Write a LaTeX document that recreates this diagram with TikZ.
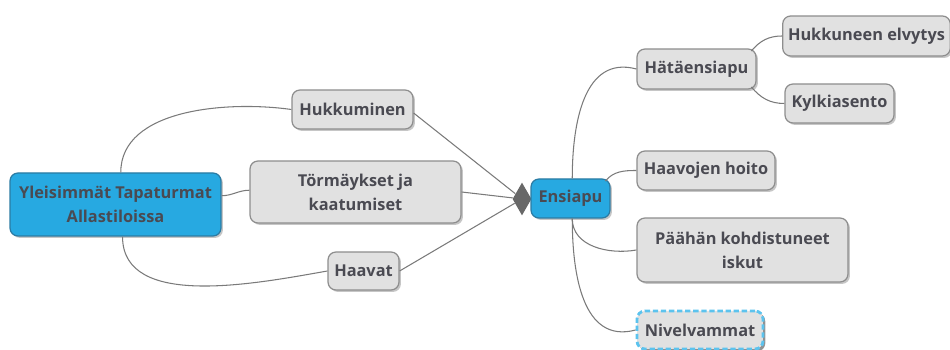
\documentclass[tikz,border=0pt]{standalone}
\usepackage{fontspec}
\setmainfont{Open Sans}
\usepackage{xcolor}
\usepackage{tikz}
\usetikzlibrary{shapes.geometric,shadows}
\definecolor{topicblue}{HTML}{27A9E1}
\definecolor{topicedge}{HTML}{2B7BA3}
\definecolor{boxgray}{HTML}{E1E1E1}
\definecolor{boxedge}{HTML}{8E8E8E}
\definecolor{textgray}{HTML}{4A4A52}
\definecolor{linegray}{HTML}{7A7A7A}
\definecolor{dashblue}{HTML}{5CC3EE}
\tikzset{
  topic box/.style={draw=boxedge, fill=boxgray, rounded corners=4.5pt, line width=0.7pt,
    text=textgray, align=center, inner xsep=3pt, inner ysep=2pt,
    font=\fontsize{9.3}{13.6}\selectfont\bfseries,
    drop shadow={shadow xshift=1.1pt, shadow yshift=-1.1pt, opacity=0.45}},
  main topic/.style={topic box, fill=topicblue, draw=topicedge},
  float topic/.style={topic box, draw=dashblue, line width=1.6pt, dash pattern=on 3pt off 1.6pt,
    drop shadow={shadow xshift=1.3pt, shadow yshift=-1.3pt, opacity=0.75}},
  branch/.style={draw=linegray, line width=0.6pt},
}

\begin{document}
\begin{tikzpicture}[x=0.02cm, y=0.02cm]
                \useasboundingbox (0,0) rectangle (950,-350);
                \node[main topic, minimum width=4.22cm, minimum height=1.26cm] (root) at (115.5,-204.5) {Yleisimmät Tapaturmat\\Allastiloissa};
                \node[topic box, minimum width=2.42cm, minimum height=0.78cm] (hukk) at (352.5,-109.5) {Hukkuminen};
                \node[topic box, minimum width=4.22cm, minimum height=1.24cm] (torm) at (355.5,-192) {Törmäykset ja\\kaatumiset};
                \node[topic box, minimum width=1.42cm, minimum height=0.76cm] (haav) at (363.5,-271) {Haavat};
                \node[fill=linegray!85!black, diamond, minimum width=0.38cm, minimum height=0.66cm, inner sep=0pt] (tip) at (522,-199) {};
                \node[main topic, minimum width=1.58cm, minimum height=0.78cm] (ensi) at (570.5,-198.5) {Ensiapu};
                \node[topic box, minimum width=2.38cm, minimum height=0.8cm] (hata) at (696.5,-69) {Hätäensiapu};
                \node[topic box, minimum width=3.26cm, minimum height=0.8cm] (elvy) at (866.5,-36) {Hukkuneen elvytys};
                \node[topic box, minimum width=2.18cm, minimum height=0.78cm] (kylk) at (839.5,-103.5) {Kylkiasento};
                \node[topic box, minimum width=2.76cm, minimum height=0.78cm] (hoit) at (706,-170.5) {Haavojen hoito};
                \node[topic box, minimum width=4.22cm, minimum height=1.28cm] (paah) at (742.5,-250) {Päähän kohdistuneet\\iskut};
                \node[float topic, minimum width=2.52cm, minimum height=0.76cm] (nive) at (700,-330) {Nivelvammat};
                \draw[branch] ([xshift=3pt]root.north) to[out=90, in=172, looseness=0.9] (hukk.west);
                \draw[branch] ([yshift=5pt]root.east) to[out=0, in=180] ([yshift=1pt]torm.west);
                \draw[branch] ([xshift=4pt]root.south) to[out=-90, in=190, looseness=0.9] (haav.west);
                \draw[branch] ([yshift=-2pt]hukk.east) -- (tip);
                \draw[branch] (torm.east) -- (tip);
                \draw[branch] (haav.east) -- (tip);
                \draw[branch] ([xshift=1pt]ensi.north) to[out=90, in=165, looseness=1.1] (hata.west);
                \draw[branch] ([xshift=-3pt,yshift=-1.5pt]ensi.north east) to[out=50, in=180] (hoit.west);
                \draw[branch] ([xshift=1pt]ensi.south) to[out=-90, in=190] (paah.west);
                \draw[branch] ([xshift=1pt]ensi.south) to[out=-90, in=195, looseness=1.1] (nive.west);
                \draw[branch] ([xshift=-3pt,yshift=-1.5pt]hata.north east) to[out=50, in=180] (elvy.west);
                \draw[branch] ([xshift=-3pt,yshift=1.5pt]hata.south east) to[out=-50, in=180] (kylk.west);
            \end{tikzpicture}
\end{document}
